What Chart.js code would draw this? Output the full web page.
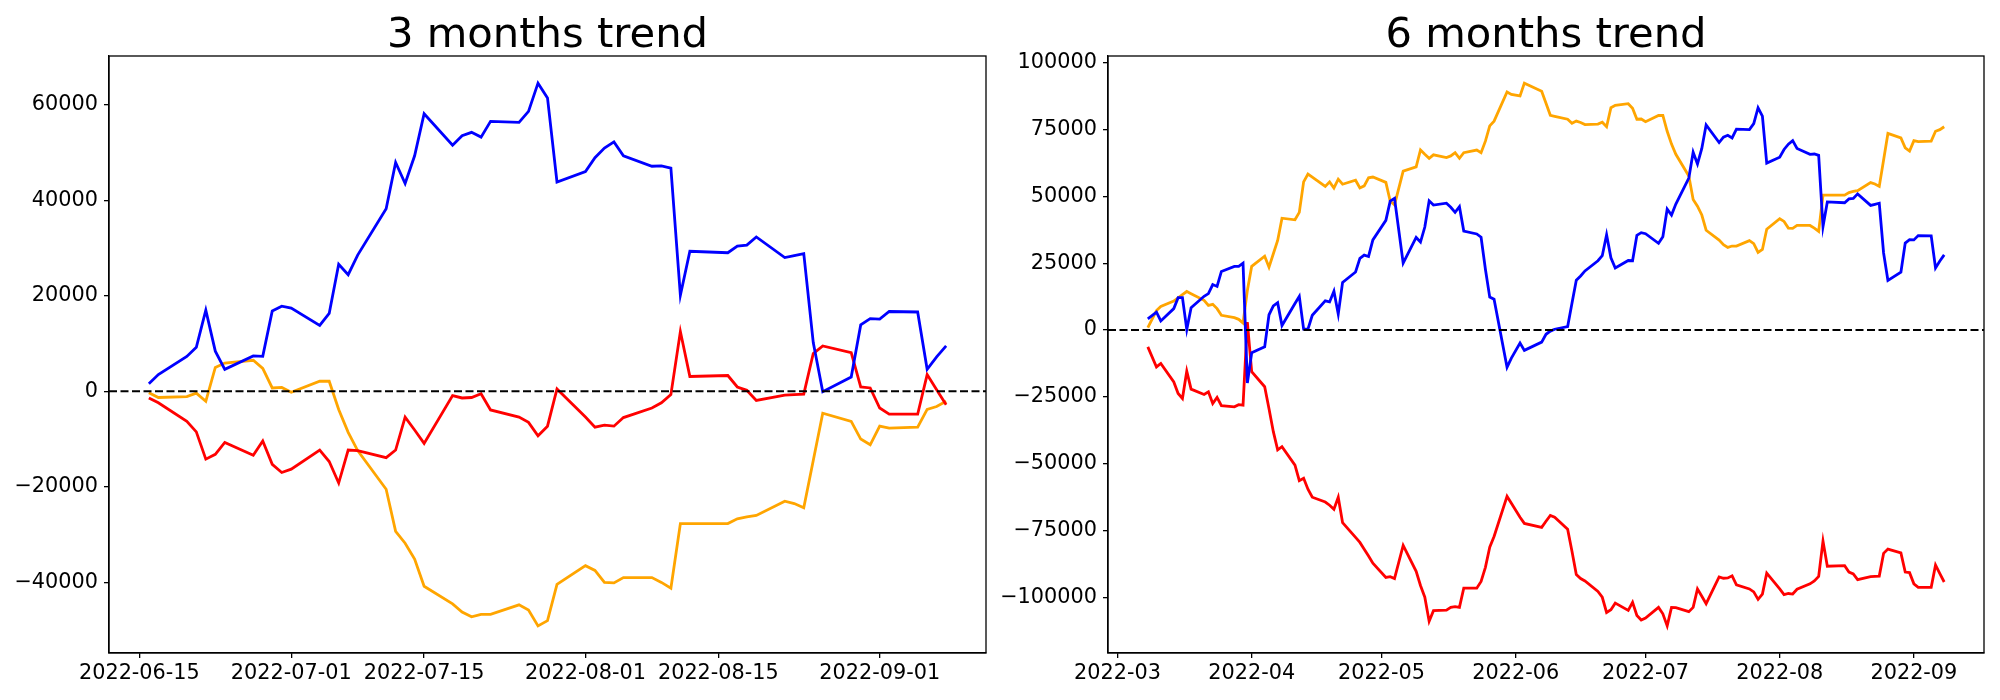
<!DOCTYPE html>
<html>
<head>
<meta charset="utf-8">
<script src="https://cdn.jsdelivr.net/npm/chart.js@4/dist/chart.umd.min.js"></script>
<style>
  html, body { margin: 0; padding: 0; background: #fff; }
  #wrap { position: relative; width: 2000px; height: 700px; }
  canvas { position: absolute; top: 0; }
</style>
</head>
<body>
<div id="wrap">
  <canvas id="chart3" width="1000" height="700" style="left:0"></canvas>
  <canvas id="chart6" width="1000" height="700" style="left:1000px"></canvas>
</div>
<script>
// ---- 3 months (trading days from 2022-06-16) ----
const dates3 = ['2022-06-16','2022-06-17','2022-06-20','2022-06-21','2022-06-22','2022-06-23','2022-06-24',
  '2022-06-27','2022-06-28','2022-06-29','2022-06-30','2022-07-01','2022-07-04','2022-07-05','2022-07-06',
  '2022-07-07','2022-07-08','2022-07-11','2022-07-12','2022-07-13','2022-07-14','2022-07-15','2022-07-18',
  '2022-07-19','2022-07-20','2022-07-21','2022-07-22','2022-07-25','2022-07-26','2022-07-27','2022-07-28',
  '2022-07-29','2022-08-01','2022-08-02','2022-08-03','2022-08-04','2022-08-05','2022-08-08','2022-08-09',
  '2022-08-10','2022-08-11','2022-08-12','2022-08-16','2022-08-17','2022-08-18','2022-08-19','2022-08-22',
  '2022-08-23','2022-08-24','2022-08-25','2022-08-26','2022-08-29','2022-08-30','2022-08-31','2022-09-01',
  '2022-09-02','2022-09-05','2022-09-06','2022-09-07','2022-09-08'];

const blue3 = [1600,3500,7300,9200,17000,8400,4600,7400,7300,16800,17800,17400,13800,16300,26600,24400,28500,
  38200,47900,43500,49300,58100,51500,53500,54200,53200,56500,56300,58600,64500,61400,43800,46000,48900,50900,
  52200,49300,47100,47200,46700,20100,29300,29000,30400,30600,32300,28000,28400,28800,10200,-100,3000,13900,
  15200,15100,16700,16600,4600,7200,9500];
const red3 = [-1400,-2400,-6300,-8500,-14200,-13200,-10700,-13400,-10400,-15300,-17000,-16300,-12300,-14700,
  -19200,-12300,-12400,-13900,-12300,-5400,-8100,-10900,-900,-1400,-1300,-500,-3900,-5400,-6500,-9300,-7300,
  500,-5400,-7500,-7100,-7300,-5500,-3500,-2400,-700,12500,3100,3300,900,200,-1900,-800,-700,-600,7900,9500,
  8100,900,700,-3500,-4800,-4800,3500,300,-2800];
const orange3 = [-300,-1300,-1100,-400,-2100,5000,5900,6500,4800,700,800,-200,2100,2100,-3800,-8600,-12400,
  -20500,-29300,-31800,-35100,-40800,-44500,-46200,-47200,-46700,-46700,-44700,-45800,-49100,-48000,-40400,
  -36500,-37500,-40000,-40100,-39000,-39000,-40000,-41200,-27700,-27700,-27700,-26700,-26300,-26000,-23000,
  -23500,-24400,-14500,-4600,-6300,-10000,-11200,-7300,-7700,-7500,-3800,-3200,-2100];

// ---- 6 months (trading days from 2022-03-08) ----
const dates6Early = ['2022-03-08','2022-03-10','2022-03-11','2022-03-14','2022-03-15','2022-03-16','2022-03-17',
  '2022-03-18','2022-03-21','2022-03-22','2022-03-23','2022-03-24','2022-03-25','2022-03-28','2022-03-29',
  '2022-03-30','2022-03-31','2022-04-01','2022-04-04','2022-04-05','2022-04-06','2022-04-07','2022-04-08',
  '2022-04-11','2022-04-12','2022-04-13','2022-04-14','2022-04-15','2022-04-18','2022-04-19','2022-04-20',
  '2022-04-21','2022-04-22','2022-04-25','2022-04-26','2022-04-27','2022-04-28','2022-04-29','2022-05-02',
  '2022-05-03','2022-05-04','2022-05-06','2022-05-09','2022-05-10','2022-05-11','2022-05-12','2022-05-13',
  '2022-05-16','2022-05-17','2022-05-18','2022-05-19','2022-05-20','2022-05-23','2022-05-24','2022-05-25',
  '2022-05-26','2022-05-27','2022-05-30','2022-05-31','2022-06-02','2022-06-03','2022-06-07','2022-06-08',
  '2022-06-09','2022-06-10','2022-06-13','2022-06-14','2022-06-15'];
const dates6 = dates6Early.concat(dates3);

const blue6 = [4200,6700,3400,8000,12100,12100,200,8300,12600,13600,17000,16300,21900,23800,23800,25000,-19800,
  -8500,-6300,5700,9000,10200,1700,9900,12600,300,300,5500,10900,10500,14500,6000,17800,21700,26800,28000,
  27500,33700,41000,48200,49200,25000,34600,32900,38500,48300,46700,47400,45900,44000,46100,37000,35900,34700,
  22700,12300,11500,-13900,-10500,-4900,-7600,-4500,-1600,-400,300,1300,10000,18600,
  20200,22100,25900,27800,35600,27000,23200,26000,25900,35400,36400,36000,32400,34900,45200,43000,47100,56800,
  66500,62100,67900,76700,70100,72100,72800,71800,75100,74900,77200,83100,80000,62400,64600,67500,69500,70800,
  67900,65700,65800,65300,38700,47900,47600,49000,49200,50900,46600,47000,47400,28800,18500,21600,32500,33800,
  33700,35300,35200,23200,25800,28100];
const red6 = [-6300,-13800,-12500,-19400,-23700,-25600,-15400,-22100,-24100,-23100,-27500,-25200,-28300,-28700,
  -27900,-28100,3000,-15600,-21200,-29400,-38000,-44800,-43600,-50500,-56300,-55400,-59500,-62500,-64300,-65500,
  -67000,-62500,-72000,-77500,-79400,-82000,-84500,-87200,-92500,-92200,-92900,-80500,-90200,-95500,-99900,
  -108900,-104900,-104700,-103700,-103400,-103700,-96500,-96500,-94000,-88700,-81200,-77200,-62200,-64800,
  -70000,-72300,-73800,-71500,-69300,-70000,-74500,-82700,-91400,
  -92900,-93800,-97700,-99900,-105600,-104600,-102100,-104800,-101800,-106700,-108400,-107700,-103700,-106100,
  -110600,-103700,-103800,-105300,-103700,-96800,-99500,-102300,-92300,-92800,-92700,-91900,-95300,-96800,
  -97900,-100700,-98700,-90900,-96800,-98900,-98500,-98700,-96900,-94900,-93800,-92100,-78900,-88300,-88100,
  -90500,-91200,-93300,-92200,-92100,-92000,-83500,-81900,-83300,-90500,-90700,-94900,-96200,-96200,-87900,
  -91100,-94200];
const orange6 = [900,7300,8800,10800,12000,13200,14400,13600,11100,9200,9600,8000,5500,4600,4000,2600,14800,
  23800,27600,23500,28500,33500,41800,41200,44000,55400,58300,57200,53700,55400,53100,56400,54500,56000,53100,
  53900,56900,57200,55200,48200,46800,59400,61000,67300,65700,64200,65500,64500,65100,66300,64200,66300,67300,
  66300,70600,76300,78100,89000,88100,87500,92300,89300,84800,80300,79900,78800,77300,78100,
  77600,76800,77000,77700,76000,83100,84000,84600,82900,78800,78900,77900,80200,80200,74300,69500,65700,57600,
  48800,46300,43000,37300,33600,31900,30900,31400,31400,33400,32300,29000,30100,37700,41600,40600,38100,38000,
  39100,39100,38100,36900,50400,50400,50400,51400,51800,52100,55100,54600,53700,63600,73500,71800,68100,66900,
  70800,70400,70600,74300,74900,76000];

// ---- ticks ----
const xTicks3 = ['2022-06-15','2022-07-01','2022-07-15','2022-08-01','2022-08-15','2022-09-01'];
const xTicks6 = ['2022-03','2022-04','2022-05','2022-06','2022-07','2022-08','2022-09'];
const yTicks3 = [-40000,-20000,0,20000,40000,60000];
const yTicks6 = [-100000,-75000,-50000,-25000,0,25000,50000,75000,100000];

const DAY = 86400000;
function dayNum(s) {
  const p = s.split('-').map(Number);
  return Date.UTC(p[0], p[1] - 1, p[2] || 1) / DAY;
}
const fmtY = v => v < 0 ? '\u2212' + (-v) : String(v);

Chart.defaults.font.family = '"DejaVu Sans", sans-serif';
Chart.defaults.font.size = 20.8;
Chart.defaults.color = '#000';

// full box around the axes + title centred on the plot area
const framePlugin = {
  id: 'frame',
  afterDraw(chart, args, opts) {
    const { ctx, chartArea: a } = chart;
    ctx.save();
    ctx.strokeStyle = '#000';
    ctx.lineWidth = 1.3;
    ctx.strokeRect(a.left, a.top, a.right - a.left, a.bottom - a.top);
    ctx.fillStyle = '#000';
    ctx.font = '41.7px "DejaVu Sans", sans-serif';
    ctx.textAlign = 'center';
    ctx.textBaseline = 'alphabetic';
    ctx.fillText(opts.text, (a.left + a.right) / 2, 47);
    ctx.restore();
  }
};

function makeChart(id, title, dates, blue, red, orange, xTicks, yTicks, yWidth, padRight) {
  const xs = dates.map(dayNum);
  const xMin = xs[0], xMax = xs[xs.length - 1];
  const xm = (xMax - xMin) * 0.05;
  const all = blue.concat(red, orange);
  const yMin = Math.min(...all), yMax = Math.max(...all);
  const ym = (yMax - yMin) * 0.05;
  const toPts = arr => arr.map((v, i) => ({ x: xs[i], y: v }));
  const tickVals = xTicks.map(dayNum);
  const tickLabel = {};
  tickVals.forEach((v, i) => { tickLabel[v] = xTicks[i]; });

  const line = (data, color) => ({
    data: toPts(data), borderColor: color, borderWidth: 2.8,
    pointRadius: 0, tension: 0, fill: false
  });

  return new Chart(document.getElementById(id), {
    type: 'line',
    data: {
      datasets: [
        { data: [{ x: xMin - xm, y: 0 }, { x: xMax + xm, y: 0 }], borderColor: '#000',
          borderWidth: 2, borderDash: [8, 3.5], pointRadius: 0, fill: false },
        line(blue, '#0000ff'),
        line(red, '#ff0000'),
        line(orange, '#ffa500')
      ]
    },
    options: {
      responsive: false,
      devicePixelRatio: 1,
      animation: false,
      layout: { padding: { top: 56, right: padRight, bottom: 0, left: 0 } },
      plugins: {
        legend: { display: false },
        tooltip: { enabled: false },
        frame: { text: title }
      },
      scales: {
        x: {
          type: 'linear',
          min: xMin - xm,
          max: xMax + xm,
          afterBuildTicks: s => { s.ticks = tickVals.map(v => ({ value: v })); },
          afterFit: s => { s.height = 47; },
          ticks: { callback: v => tickLabel[v], maxRotation: 0, autoSkip: false, padding: 3 },
          grid: { drawOnChartArea: false, drawTicks: true, tickLength: 5, color: '#000', lineWidth: 1.3 },
          border: { display: true, color: '#000', width: 1.3 }
        },
        y: {
          type: 'linear',
          min: yMin - ym,
          max: yMax + ym,
          afterBuildTicks: s => { s.ticks = yTicks.map(v => ({ value: v })); },
          afterFit: s => { s.width = yWidth; },
          ticks: { callback: fmtY, padding: 6 },
          grid: { drawOnChartArea: false, drawTicks: true, tickLength: 5, color: '#000', lineWidth: 1.3 },
          border: { display: true, color: '#000', width: 1.3 }
        }
      }
    },
    plugins: [framePlugin]
  });
}

makeChart('chart3', '3 months trend', dates3, blue3, red3, orange3, xTicks3, yTicks3, 109, 14);
makeChart('chart6', '6 months trend', dates6, blue6, red6, orange6, xTicks6, yTicks6, 108, 16);
</script>
</body>
</html>
